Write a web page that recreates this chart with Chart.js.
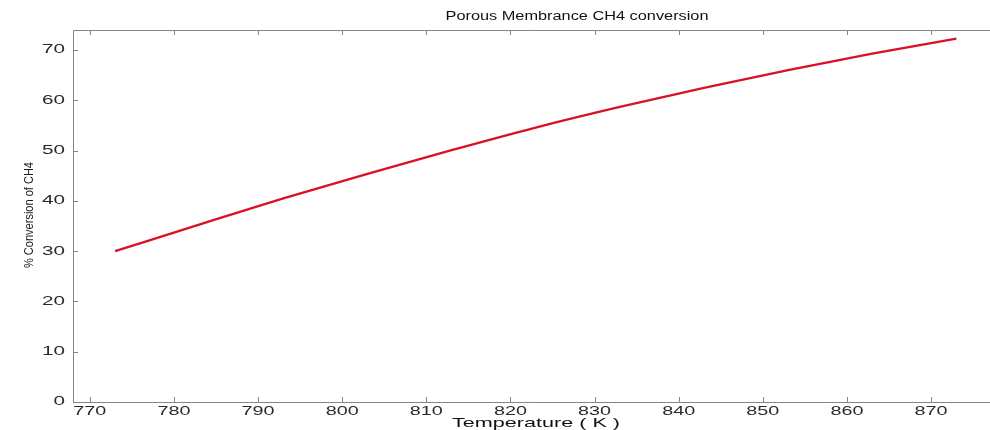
<!DOCTYPE html>
<html>
<head>
<meta charset="utf-8">
<script src="https://cdn.jsdelivr.net/npm/chart.js@4/dist/chart.umd.min.js"></script>
<style>
  html, body { margin: 0; padding: 0; background: #ffffff; }
  #wrap { width: 990px; height: 430px; }
</style>
</head>
<body>
<div id="wrap"><canvas id="c" width="990" height="430"></canvas></div>
<script>
// Text
const chartTitle = 'Porous Membrance CH4 conversion';
const xAxisTitle = 'Temperature ( K )';
const yAxisTitle = '% Conversion of CH4';

// Methane conversion vs. reactor temperature
const temperatures = [773, 783, 793, 803, 813, 823, 833, 843, 853, 863, 873];
const conversion   = [30.0, 35.3, 40.5, 45.4, 50.1, 54.6, 58.7, 62.5, 66.0, 69.3, 72.3];

// Tick labels
const xTicks = [770, 780, 790, 800, 810, 820, 830, 840, 850, 860, 870];
const yTicks = [0, 10, 20, 30, 40, 50, 60, 70];

const FONT = '"Liberation Sans", Arial, Helvetica, sans-serif';
const AXIS_COLOR = '#858585';
const TEXT_COLOR = '#2a2a2a';

// Draws text squeezed or stretched horizontally to a given width
function fitText(ctx, text, x, y, size, width, color, angle) {
  ctx.save();
  ctx.font = size + 'px ' + FONT;
  ctx.fillStyle = color;
  const natural = ctx.measureText(text).width;
  ctx.translate(x, y);
  if (angle) ctx.rotate(angle);
  ctx.scale(width / natural, 1);
  ctx.textAlign = 'center';
  ctx.textBaseline = 'middle';
  ctx.fillText(text, 0, 0);
  ctx.restore();
}

// Box axes with inward ticks, tick labels and titles
const framePlugin = {
  id: 'frame',
  afterDraw(chart) {
    const { ctx, chartArea: a, scales } = chart;
    const xs = scales.x, ys = scales.y;
    const tick = 5;
    ctx.save();
    ctx.strokeStyle = AXIS_COLOR;
    ctx.lineWidth = 1;
    ctx.beginPath();
    // left, bottom, top border
    ctx.moveTo(a.left + 0.5, a.top + 0.5);
    ctx.lineTo(a.left + 0.5, a.bottom + 0.5);
    ctx.lineTo(a.right, a.bottom + 0.5);
    ctx.moveTo(a.left + 0.5, a.top + 0.5);
    ctx.lineTo(a.right, a.top + 0.5);
    xTicks.forEach(v => {
      const px = Math.round(xs.getPixelForValue(v)) + 0.5;
      ctx.moveTo(px, a.bottom);
      ctx.lineTo(px, a.bottom - tick);
      ctx.moveTo(px, a.top);
      ctx.lineTo(px, a.top + tick);
    });
    yTicks.forEach(v => {
      const py = Math.round(ys.getPixelForValue(v)) + 0.5;
      ctx.moveTo(a.left, py);
      ctx.lineTo(a.left + tick, py);
    });
    ctx.stroke();
    ctx.restore();

    // tick labels
    xTicks.forEach(v => {
      const s = String(v);
      fitText(ctx, s, xs.getPixelForValue(v), a.bottom + 9, 13, s.length * 11, TEXT_COLOR);
    });
    yTicks.forEach(v => {
      const s = String(v);
      const w = s.length * 11.5;
      fitText(ctx, s, a.left - 8 - w / 2, ys.getPixelForValue(v), 12, w, TEXT_COLOR);
    });

    // titles
    fitText(ctx, chartTitle, 577, 17, 12, 263, '#111111');
    fitText(ctx, xAxisTitle, 536, 423, 13, 168, '#111111');
    fitText(ctx, yAxisTitle, 29, 215, 13, 106, '#1a1a1a', -Math.PI / 2);
  }
};

new Chart(document.getElementById('c'), {
  type: 'line',
  data: {
    datasets: [{
      data: temperatures.map((t, i) => ({ x: t, y: conversion[i] })),
      borderColor: 'rgb(218, 16, 40)',
      borderWidth: 2.3,
      pointRadius: 0,
      fill: false,
      cubicInterpolationMode: 'monotone'
    }]
  },
  options: {
    responsive: false,
    animation: false,
    layout: { padding: { left: 73, right: 0, top: 30, bottom: 28 } },
    plugins: { legend: { display: false }, tooltip: { enabled: false }, title: { display: false } },
    scales: {
      x: {
        type: 'linear', min: 768, max: 877,
        grid: { display: false, drawTicks: false },
        border: { display: false },
        ticks: { display: false },
        afterFit(s) { s.height = 0; }
      },
      y: {
        type: 'linear', min: 0, max: 74,
        grid: { display: false, drawTicks: false },
        border: { display: false },
        ticks: { display: false },
        afterFit(s) { s.width = 0; }
      }
    }
  },
  plugins: [framePlugin]
});
</script>
</body>
</html>
